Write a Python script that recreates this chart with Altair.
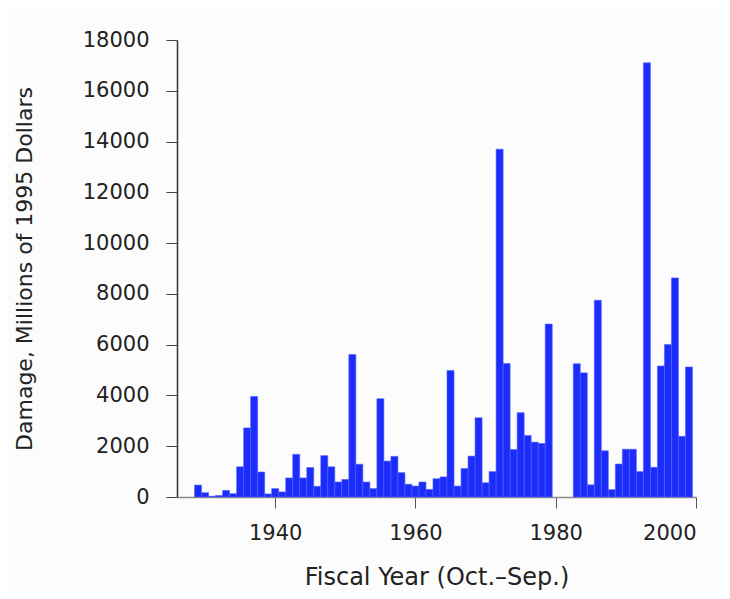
import altair as alt
import pandas as pd

years = list(range(1929, 2000))
damage = [
    470, 170, 30, 60, 260, 130, 1190, 2720, 3960, 985,      # 1929-1938
    120, 330, 200, 750, 1680, 750, 1160, 420, 1630, 1190,   # 1939-1948
    590, 690, 5610, 1290, 590, 330, 3870, 1415, 1600, 960,  # 1949-1958
    500, 430, 590, 300, 720, 790, 4980, 430, 1120, 1610,    # 1959-1968
    3120, 560, 1000, 13700, 5260, 1870, 3320, 2420, 2160, 2110,  # 1969-1978
    6810, 0, 0, 0, 5250, 4890, 480, 7750, 1820, 290,        # 1979-1988
    1300, 1880, 1880, 1000, 17100, 1170, 5160, 6010, 8630, 2390,  # 1989-1998
    5120,                                                   # 1999
]
x_ticks = [1940, 1960, 1980, 2000]
y_ticks = list(range(0, 18001, 2000))

df = pd.DataFrame({"year": years, "damage": damage})

FONT = "DejaVu Sans"

chart = (
    alt.Chart(df)
    .transform_filter("datum.damage > 0")
    .transform_calculate(x0="datum.year - 0.5", x1="datum.year + 0.5")
    .mark_bar(color="#1b2cfb", stroke="#5060ff", strokeWidth=0.6)
    .encode(
        x=alt.X(
            "x0:Q",
            scale=alt.Scale(domain=[1926, 2000], nice=False, zero=False),
            axis=alt.Axis(
                values=x_ticks,
                format="d",
                title="Fiscal Year (Oct.\u2013Sep.)",
                grid=False,
                domainColor="#8a8a82",
                domainWidth=1.5,
                tickColor="#555555",
                tickSize=11,
                labelPadding=14,
                labelFont=FONT,
                labelFontSize=21,
                labelColor="#222222",
                titleFont=FONT,
                titleFontSize=24,
                titleFontWeight="normal",
                titleColor="#222222",
                titleBaseline="alphabetic",
                titleY=87,
            ),
        ),
        x2="x1:Q",
        y=alt.Y(
            "damage:Q",
            scale=alt.Scale(domain=[0, 18000], nice=False),
            axis=alt.Axis(
                values=y_ticks,
                format="d",
                title="Damage, Millions of 1995 Dollars",
                grid=False,
                domainColor="#333333",
                domainWidth=1.5,
                tickColor="#444444",
                tickSize=11,
                labelPadding=17,
                labelFont=FONT,
                labelFontSize=21,
                labelColor="#222222",
                titleFont=FONT,
                titleFontSize=22,
                titleFontWeight="normal",
                titleColor="#222222",
                titleBaseline="alphabetic",
                titleX=-146,
            ),
        ),
        y2=alt.datum(0),
    )
    .properties(
        width=519,
        height=457,
        background="#fcfcfc",
        padding={"left": 169, "top": 32, "right": 26, "bottom": 94},
        autosize=alt.AutoSizeParams(type="none"),
    )
    .configure_view(stroke=None)
)

chart.save("out.html", embed_options={"renderer": "svg", "actions": False})
